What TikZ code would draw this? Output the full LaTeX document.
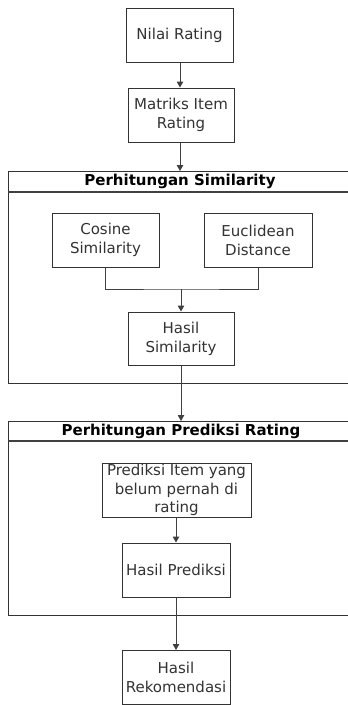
\documentclass[tikz,border=0pt]{standalone}
\usepackage{fontspec}
\setmainfont{DejaVu Sans}
\usetikzlibrary{arrows.meta}
\begin{document}
\begin{tikzpicture}[x=1pt,y=-1pt]
\tikzset{
  box/.style={draw=black!80, line width=1pt, minimum width=107pt, minimum height=54pt, inner sep=0pt, align=center, font=\fontsize{15}{19}\selectfont, text=black!80},
  cont/.style={draw=black!80, line width=1.3pt, anchor=north west, inner sep=0pt, minimum width=360pt},
  title/.style={font=\bfseries\fontsize{15}{19}\selectfont, text=black},
  arr/.style={draw=black!75, line width=1pt, -{Triangle[length=6pt,width=6.5pt]}},
  ln/.style={draw=black!75, line width=1pt},
}
\useasboundingbox (0,0) rectangle (348,705);
\clip (0,0) rectangle (348,705);
\fill[white] (0,0) rectangle (348,705);

% containers
\node[cont, minimum height=212pt] (sim) at (8,171) {};
\draw[ln, line width=1.3pt] (sim.north west) ++(0,21) coordinate (simh) -- ++(360,0);
\node[title] (simtitle) at (180,181.5) {Perhitungan Similarity};

\node[cont, minimum height=194pt] (pred) at (8,421) {};
\draw[ln, line width=1.3pt] (pred.north west) ++(0,20) coordinate (predh) -- ++(360,0);
\node[title] (predtitle) at (181,431) {Perhitungan Prediksi Rating};

% boxes
\node[box] (nilai) at (179.5,35) {Nilai Rating};
\node[box, minimum width=106pt] (matriks) at (181,115) {Matriks Item\\Rating};
\node[box] (cos) at (105.5,240) {Cosine\\Similarity};
\node[box, minimum width=108pt] (euc) at (258,240) {Euclidean\\Distance};
\node[box, minimum width=106pt, minimum height=53pt] (hsim) at (181,338.5) {Hasil\\Similarity};
\node[box, minimum width=149pt, label={[align=center, font=\fontsize{15}{18.5}\selectfont, text=black!80]center:Prediksi Item yang\\belum pernah di\\rating}] (prediksi) at (176.5,490) {};
\node[box, minimum width=108pt] (hpred) at (176,570) {Hasil Prediksi};
\node[box, minimum width=108pt] (rekom) at (176,677.5) {Hasil\\Rekomendasi};

% connectors
\draw[arr] (nilai.south -| 180,0) -- (matriks.north -| 180,0);
\draw[arr] (matriks.south -| 180,0) -- (sim.north -| 180,0);
\coordinate (junc) at (181,289);
\draw[ln] (cos.south) |- (junc) -| (euc.south);
\draw[arr] (junc) -- (hsim.north);
\draw[arr] (hsim.south) -- (hsim.south |- pred.north);
\draw[arr] (prediksi.south -| hpred.north) -- (hpred.north);
\draw[arr] (hpred.south) -- (rekom.north);
\end{tikzpicture}
\end{document}
